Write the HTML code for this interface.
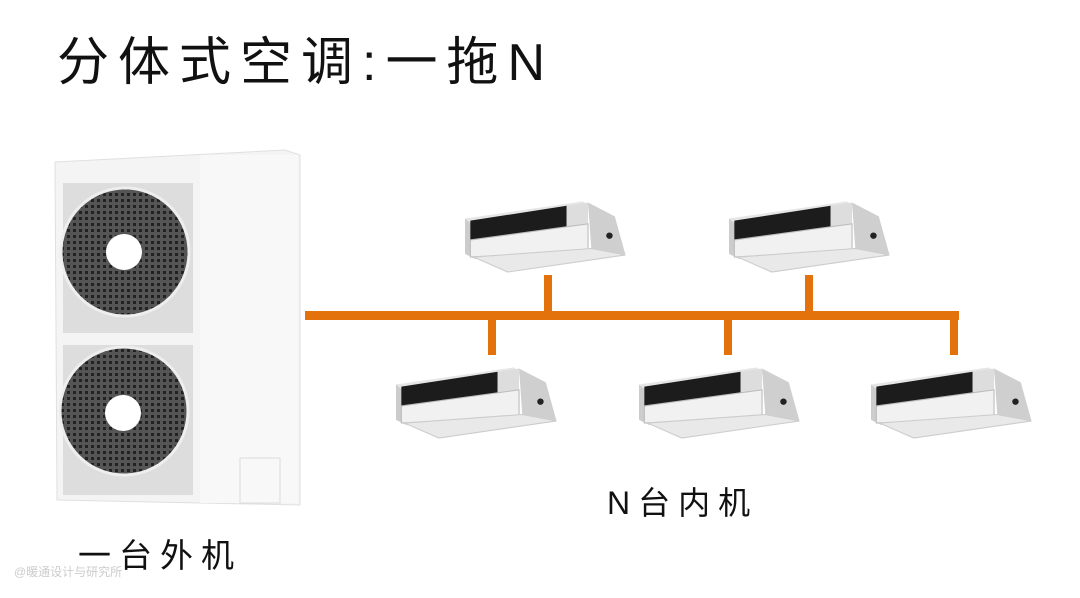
<!DOCTYPE html>
<html><head><meta charset="utf-8"><style>
body{margin:0;width:1080px;height:598px;background:#fff;overflow:hidden;position:relative;font-family:"Liberation Sans","Noto Sans CJK SC",sans-serif;}
.t{position:absolute;color:#111;white-space:nowrap;line-height:1;}
</style></head><body>
<div class="t" style="left:57px;top:37px;font-size:52px;letter-spacing:9px;">分体式空调:一拖N</div>
<div class="t" style="left:607px;top:487px;font-size:32px;letter-spacing:8px;">N台内机</div>
<div class="t" style="left:78px;top:539px;font-size:33px;letter-spacing:8px;">一台外机</div>
<div class="t" style="left:14px;top:566px;font-size:12px;color:#ccc;">@暖通设计与研究所</div>
<svg width="1080" height="598" style="position:absolute;left:0;top:0">
<defs>
<pattern id="g" width="6" height="6" patternUnits="userSpaceOnUse"><rect width="6" height="6" fill="#555"/><rect x="1" y="1" width="3" height="3" fill="#222"/></pattern>
<g id="iu" transform="scale(1.07)">
<polygon points="0,22 110,6 118,12 8,28" fill="#e6e6e6"/>
<polygon points="0,22 0,55 10,60 10,30" fill="#ccc"/>
<polygon points="5,24 95,10 95,30 5,42" fill="#1c1c1c"/>
<polygon points="95,10 115,7 115,27 95,30" fill="#ddd"/>
<polygon points="5,42 115,27 115,52 5,58" fill="#f1f1f1" stroke="#bbb"/>
<polygon points="8,58 118,50 150,56 40,72" fill="#e9e9e9" stroke="#ccc"/>
<polygon points="115,7 140,20 150,56 118,50" fill="#cfcfcf"/>
<circle cx="135" cy="38" r="3" fill="#222"/>
</g>
</defs>
<polygon points="55,162 285,150 300,155 300,505 57,500" fill="#f4f4f4" stroke="#e0e0e0"/>
<rect x="200" y="155" width="98" height="348" fill="#f8f8f8"/>
<rect x="63" y="183" width="130" height="150" fill="#ddd"/>
<rect x="63" y="345" width="130" height="150" fill="#ddd"/>
<circle cx="125" cy="252" r="64" fill="url(#g)" stroke="#eee" stroke-width="3"/>
<circle cx="124" cy="252" r="18" fill="#fff"/>
<circle cx="124" cy="411" r="64" fill="url(#g)" stroke="#eee" stroke-width="3"/>
<circle cx="123" cy="413" r="18" fill="#fff"/>
<rect x="240" y="458" width="40" height="45" fill="none" stroke="#ddd"/>
<g fill="#e4720c">
<rect x="305" y="311" width="654" height="9"/>
<rect x="544" y="275" width="8" height="40"/>
<rect x="805" y="275" width="8" height="40"/>
<rect x="488" y="315" width="8" height="40"/>
<rect x="724" y="315" width="8" height="40"/>
<rect x="950" y="315" width="8" height="40"/>
</g>
<use href="#iu" x="465" y="195"/>
<use href="#iu" x="729" y="195"/>
<use href="#iu" x="396" y="361"/>
<use href="#iu" x="639" y="361"/>
<use href="#iu" x="871" y="361"/>
</svg>
</body></html>
